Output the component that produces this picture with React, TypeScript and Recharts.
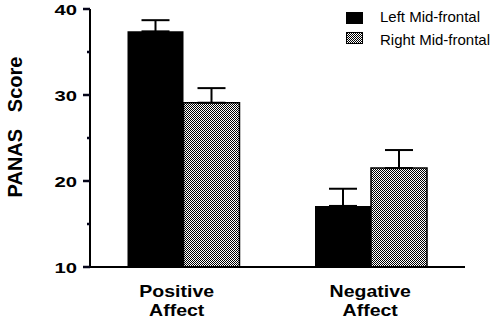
import React from 'react';
import { BarChart, Bar, XAxis, YAxis, ErrorBar, Legend } from 'recharts';

const categories = ['Positive Affect', 'Negative Affect'];
const categoryLines = [
  ['Positive', 'Affect'],
  ['Negative', 'Affect'],
];
const seriesNames = ['Left Mid-frontal', 'Right Mid-frontal'];
const leftValues = [37.4, 17.1];
const leftErrors = [1.3, 2.0];
const rightValues = [29.1, 21.5];
const rightErrors = [1.7, 2.1];
const yTicks = [10, 15, 20, 25, 30, 35, 40];
const yLabeledTicks = [10, 20, 30, 40];
const yAxisTitle = 'PANAS   Score';

const data = categories.map((c, i) => ({
  name: c,
  left: leftValues[i],
  leftErr: [0, leftErrors[i]],
  right: rightValues[i],
  rightErr: [0, rightErrors[i]],
}));

const FONT = '"Liberation Sans", Arial, Helvetica, sans-serif';
const TICK_COLOR = '#05051a';

const YTick = (props: any) => {
  const x = Number(props.x);
  const y = Number(props.y);
  const v = props.payload.value;
  const major = yLabeledTicks.includes(v);
  return (
    <g>
      {!major && <rect x={x + 5} y={y - 2.5} width={5} height={5} fill="#fff" />}
      {major && (
        <g transform={`translate(${x},${y + 6}) scale(1.35,1)`}>
          <text x={0} y={0} textAnchor="end" fontFamily={FONT} fontWeight="bold" fontSize={15} fill="#000">
            {v}
          </text>
        </g>
      )}
    </g>
  );
};

const XTick = (props: any) => {
  const x = Number(props.x);
  const y = Number(props.y);
  const index = props.index;
  const lines = categoryLines[index] || [];
  const dx = index === 0 ? -7 : -1;
  return (
    <g>
      {lines.map((t, i) => (
        <g key={i} transform={`translate(${x + dx},${y + 30 + i * 19}) scale(1.22,1)`}>
          <text x={0} y={0} textAnchor="middle" fontFamily={FONT} fontWeight="bold" fontSize={16} fill="#000">
            {t}
          </text>
        </g>
      ))}
    </g>
  );
};

const YTitle = () => (
  <text
    x={22}
    y={127}
    transform="rotate(-90 22 127)"
    textAnchor="middle"
    fontFamily={FONT}
    fontWeight="bold"
    fontSize={20}
    fill="#000"
    style={{ whiteSpace: 'pre' }}
  >
    {yAxisTitle}
  </text>
);

const renderLegend = () => (
  <svg width={499} height={60} style={{ display: 'block' }}>
    {seriesNames.map((n, i) => (
      <g key={n}>
        <rect
          x={346.5}
          y={12.5 + i * 20}
          width={16}
          height={11}
          fill={i === 0 ? '#000' : 'url(#checker)'}
          stroke="#000"
          strokeWidth={1}
        />
        <text x={380} y={22 + i * 23} fontFamily={FONT} fontSize={15} fill="#000">
          {n}
        </text>
      </g>
    ))}
  </svg>
);

export default function App() {
  return (
    <div style={{ position: 'absolute', left: 0, top: 0, width: 499, height: 322, background: '#fff' }}>
      <svg width={0} height={0} style={{ position: 'absolute' }}>
        <defs>
          <pattern id="checker" width={2} height={2} patternUnits="userSpaceOnUse">
            <rect x={0} y={0} width={2} height={2} fill="#fff" />
            <rect x={0} y={0} width={1} height={1} fill="#000" />
            <rect x={1} y={1} width={1} height={1} fill="#000" />
          </pattern>
        </defs>
      </svg>
      <BarChart
        width={499}
        height={322}
        data={data}
        margin={{ top: 9, right: 34, bottom: 25, left: 0 }}
        barCategoryGap="20%"
        barGap={0}
      >
        <XAxis
          dataKey="name"
          height={30}
          axisLine={{ stroke: '#000', strokeWidth: 2 }}
          tickLine={false}
          tickSize={0}
          tickMargin={0}
          tick={<XTick />}
          interval={0}
        />
        <YAxis
          width={90}
          domain={[10, 40]}
          ticks={yTicks}
          interval={0}
          axisLine={{ stroke: '#000', strokeWidth: 2 }}
          tickLine={{ stroke: TICK_COLOR, strokeWidth: 2.5 }}
          tickSize={7}
          tickMargin={6}
          tick={<YTick />}
          label={{ content: <YTitle /> }}
        />
        <Legend
          layout="vertical"
          align="center"
          verticalAlign="middle"
          content={renderLegend}
          wrapperStyle={{ position: 'absolute', top: 0, left: 0, width: 499, height: 60 }}
        />
        <Bar dataKey="left" name={seriesNames[0]} fill="#000" isAnimationActive={false}>
          <ErrorBar dataKey="leftErr" width={14} stroke="#000" strokeWidth={2} direction="y" />
        </Bar>
        <Bar
          dataKey="right"
          name={seriesNames[1]}
          fill="url(#checker)"
          stroke="#000"
          strokeWidth={1.5}
          isAnimationActive={false}
        >
          <ErrorBar dataKey="rightErr" width={14} stroke="#000" strokeWidth={2} direction="y" />
        </Bar>
      </BarChart>
    </div>
  );
}
